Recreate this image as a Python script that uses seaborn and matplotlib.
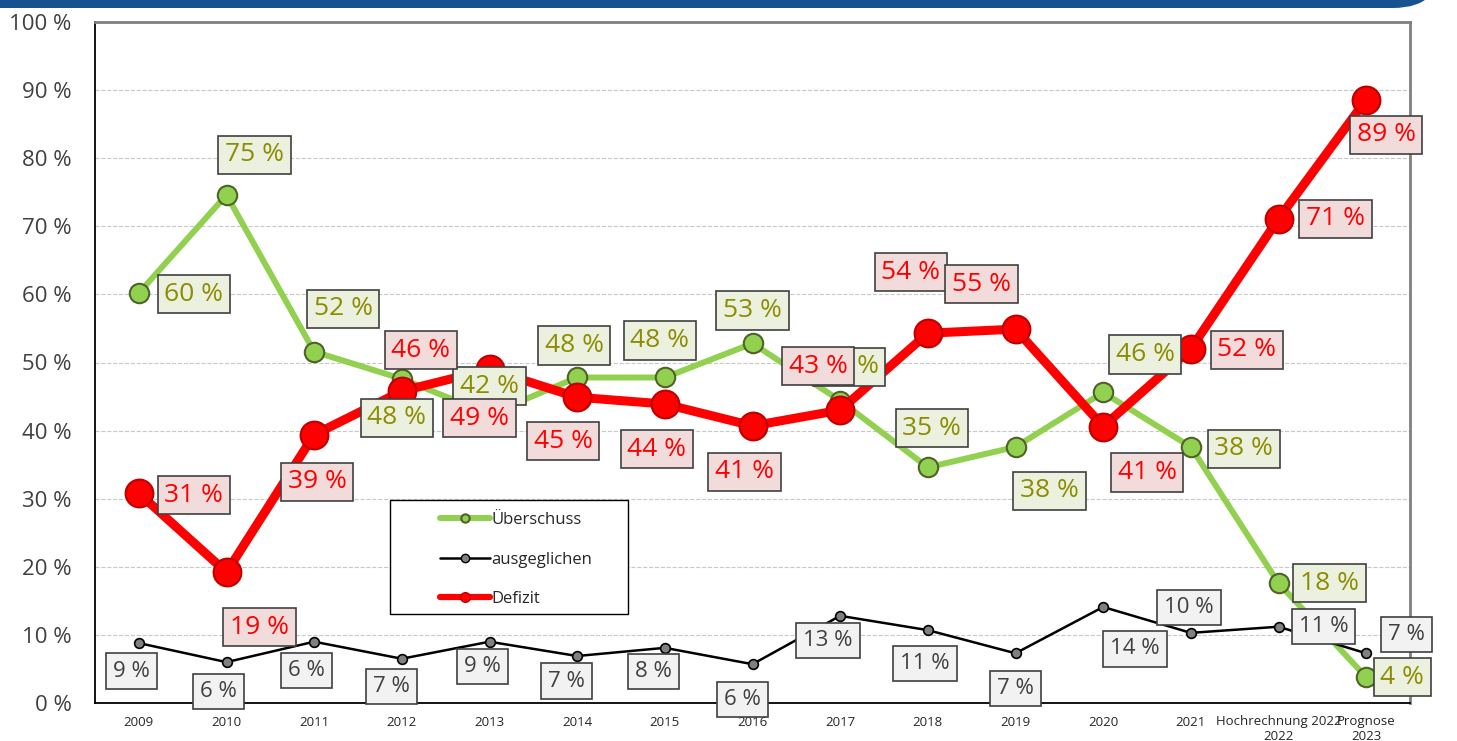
import numpy as np
import pandas as pd
import seaborn as sns
import matplotlib.pyplot as plt
from matplotlib.patches import FancyBboxPatch, Rectangle
from matplotlib.lines import Line2D

years = ['2009', '2010', '2011', '2012', '2013', '2014', '2015', '2016', '2017',
         '2018', '2019', '2020', '2021', 'Hochrechnung 2022\n2022', 'Prognose\n2023']
ueberschuss = [60.2, 74.6, 51.6, 47.6, 42.4, 47.8, 47.8, 52.8, 44.4, 34.6, 37.6, 45.6, 37.6, 17.6, 3.8]
defizit = [30.8, 19.2, 39.4, 45.8, 49.0, 44.9, 43.9, 40.7, 43.0, 54.3, 54.9, 40.6, 52.0, 71.1, 88.6]
ausgeglichen = [8.8, 6.0, 9.0, 6.5, 9.0, 6.9, 8.1, 5.7, 12.8, 10.7, 7.3, 14.1, 10.3, 11.2, 7.3]
ausgeglichen_labels = ['9', '6', '6', '7', '9', '7', '8', '6', '13', '11', '7', '14', '10', '11', '7']

# label offsets in pixels (dx, dy down)
off_green = [(55, 1), (28, -40), (29, -43), (-5, 39), (0, -28), (-3, -32), (-5, -37), (0, -33),
             (9, -34), (4, -39), (34, 44), (42, -38), (53, 2), (51, 0), (36, 0)]
off_red = [(55, 2), (33, 55), (3, 47), (19, -41), (-10, 49), (-14, 44), (-8, 45), (-8, 46),
           (-22, -44), (-17, -61), (-34, -45), (44, 46), (56, 1), (57, 0), (20, 35)]
off_black = [(-7, 28), (-8, 29), (-8, 29), (-10, 28), (-7, 25), (-11, 25), (-11, 24), (-10, 35),
             (-12, 25), (-3, 33), (0, 35), (32, 42), (-2, -25), (45, 0), (40, -19)]

sns.set_style('white')
plt.rcParams['font.family'] = ['Open Sans', 'DejaVu Sans']

W, H = 1457, 741
fig = plt.figure(figsize=(W / 100, H / 100), dpi=100)
ax = fig.add_axes([95 / W, 1 - 703 / H, 1315 / W, 681 / H])

x = np.arange(len(years))
df = pd.DataFrame({'x': x, 'ue': ueberschuss, 'de': defizit, 'au': ausgeglichen})

sns.lineplot(data=df, x='x', y='ue', ax=ax, color='#92d050', lw=4.3, marker='o', markersize=14,
             markerfacecolor='#92d050', markeredgecolor='#4f6228', markeredgewidth=1.5, zorder=3)
sns.lineplot(data=df, x='x', y='au', ax=ax, color='black', lw=1.8, marker='o', markersize=7,
             markerfacecolor='#808080', markeredgecolor='black', markeredgewidth=1.2, zorder=3.5)
sns.lineplot(data=df, x='x', y='de', ax=ax, color='#ff0000', lw=6.5, marker='o', markersize=20,
             markerfacecolor='#ff0000', markeredgecolor='#c00000', markeredgewidth=1.5, zorder=4)


def add_labels(vals, texts, offsets, fc, tc, size, pad, z):
    for i, (v, t, (dx, dy)) in enumerate(zip(vals, texts, offsets)):
        ax.annotate(t, (i, v), xytext=(dx, -dy), textcoords='offset pixels',
                    ha='center', va='center', color=tc, fontsize=size, zorder=z,
                    bbox=dict(boxstyle=f'square,pad={pad}', fc=fc, ec='#404040', lw=1.2))


add_labels(ueberschuss, [f'{round(v)} %' for v in ueberschuss], off_green,
           '#ebf1de', '#8c8c00', 19, 0.25, 6)
add_labels(defizit, [f'{round(v)} %' for v in defizit], off_red,
           '#f2dcdb', '#ff0000', 19, 0.25, 7)
add_labels(ausgeglichen, [f'{t} %' for t in ausgeglichen_labels], off_black,
           '#f2f2f2', '#404040', 16, 0.32, 8)

ax.set_xlim(-0.5, len(years) - 0.5)
ax.set_ylim(0, 100)
ax.set_xlabel('')
ax.set_ylabel('')
ax.set_xticks(x)
ax.set_xticklabels(years, fontsize=9.5, color='#262626', linespacing=1.1)
ax.set_xticks(np.arange(-0.5, len(years), 1), minor=True)
ax.tick_params(axis='x', which='major', length=0, pad=9)
ax.tick_params(axis='x', which='minor', length=6, width=1, color='black', direction='out')
ax.set_yticks(np.arange(0, 101, 10))
ax.set_yticklabels([f'{v} %' for v in range(0, 101, 10)], fontsize=16, color='#404040')
ax.tick_params(axis='y', length=8, width=1, color='black', direction='out', pad=9)
ax.yaxis.grid(True, ls='--', color='#c8c8c8', lw=0.8)
ax.set_axisbelow(True)
for s in ['top', 'right']:
    ax.spines[s].set_color('#808080')
    ax.spines[s].set_linewidth(2)
for s in ['left', 'bottom']:
    ax.spines[s].set_color('black')
    ax.spines[s].set_linewidth(1.3)

# legend box
ax.add_patch(Rectangle((295 / 1315, 89 / 681), 238 / 1315, 114 / 681, transform=ax.transAxes,
                       fc='white', ec='black', lw=1, zorder=9))
handles = [
    Line2D([], [], color='#92d050', lw=4.3, marker='o', markersize=6,
           markerfacecolor='#92d050', markeredgecolor='#4f6228', markeredgewidth=1.5),
    Line2D([], [], color='black', lw=1.8, marker='o', markersize=6,
           markerfacecolor='#808080', markeredgecolor='black', markeredgewidth=1),
    Line2D([], [], color='#ff0000', lw=4.5, marker='o', markersize=7,
           markerfacecolor='#ff0000', markeredgecolor='#c00000', markeredgewidth=1),
]
leg = fig.legend(handles, ['Überschuss', 'ausgeglichen', 'Defizit'], loc='upper left',
                 bbox_to_anchor=(440 / W, 1 - 512 / H), frameon=False, borderpad=0,
                 borderaxespad=0, fontsize=12, handlelength=3.0, handletextpad=0.1,
                 labelspacing=1.42, labelcolor='#262626')
leg.set_zorder(10)

# blue band at the top
fig.patches.append(FancyBboxPatch((-1, 7.33), 15.43, 1, boxstyle='round,pad=0,rounding_size=0.5',
                                  transform=fig.dpi_scale_trans, fc='#15528f', ec='none'))

fig.savefig('out.png', dpi=100)
